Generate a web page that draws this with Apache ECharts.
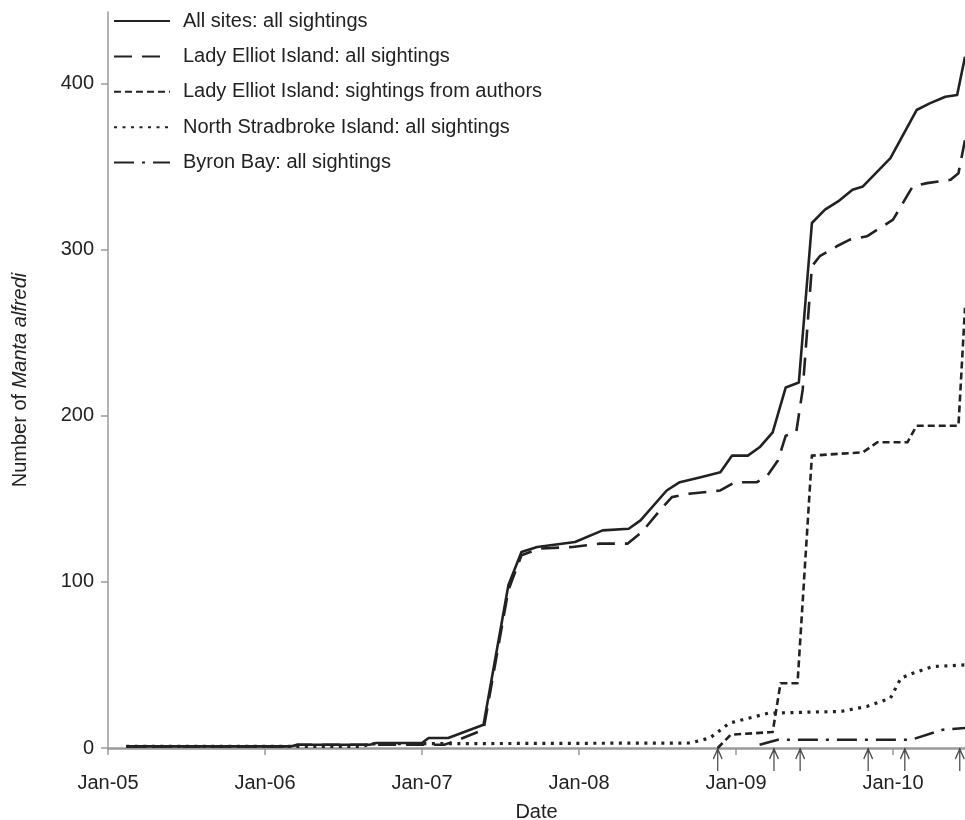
<!DOCTYPE html>
<html>
<head>
<meta charset="utf-8">
<script src="https://cdn.jsdelivr.net/npm/echarts@6/dist/echarts.min.js"></script>
<style>
  html, body { margin: 0; padding: 0; background: #fff; }
  #chart { width: 965px; height: 820px; }
</style>
</head>
<body>
<div id="chart"></div>
<script>
// months counted from Jan 2005 (0 = Jan-05), cumulative sightings
const xTickLabels = ['Jan-05', 'Jan-06', 'Jan-07', 'Jan-08', 'Jan-09', 'Jan-10'];
const xTickMonths = [0, 12, 24, 36, 48, 60];
const yTicks = [0, 100, 200, 300, 400];

const allSites = [
  [1.4, 1], [14, 1], [14.5, 2], [20, 2], [20.5, 3], [24, 3], [24.5, 6], [26, 6],
  [28.7, 14], [30.6, 98], [31.6, 118], [32.8, 121], [35.7, 124], [37.8, 131],
  [39.8, 132], [40.7, 137], [42.7, 155], [43.7, 160], [45.3, 163], [46.8, 166],
  [47.7, 176], [48.9, 176], [49.8, 181], [50.8, 190], [51.8, 217], [52.8, 220],
  [53.8, 316], [54.8, 324], [55.8, 329], [56.9, 336], [57.7, 338], [59.8, 355],
  [61.8, 384], [62.8, 388], [64, 392], [64.9, 393], [65.5, 416]
];

const ladyElliotAll = [
  [1.4, 1], [14, 1], [14.5, 2], [24, 2], [25.7, 2], [26.8, 5], [28.7, 11],
  [30.6, 95], [31.6, 116], [33, 120], [35.5, 121], [37.6, 123], [39.7, 123],
  [40.8, 130], [42.4, 145], [43.1, 151], [44.4, 153], [46.8, 155], [47.9, 160],
  [49.6, 160], [50.4, 164], [51.2, 173], [51.8, 188], [52.6, 190], [53.1, 216],
  [53.8, 290], [54.4, 296], [55.7, 302], [56.7, 306], [58, 308], [60, 318],
  [61.5, 338], [62.6, 340], [64.4, 342], [65, 346], [65.5, 366]
];

const ladyElliotAuthors = [
  [46.6, 0], [47.6, 8], [50.8, 9.6], [51.4, 39], [52.7, 39], [53.8, 176],
  [57.7, 178], [58.8, 184], [61.1, 184], [61.8, 194], [65, 194], [65.5, 265]
];

const northStradbroke = [
  [1.4, 1], [19.5, 1], [20, 2.5], [44.5, 3], [46, 6], [47.5, 15], [48.5, 17],
  [50.5, 21], [56, 22], [58, 25], [59.8, 30], [60.6, 42], [61.5, 45], [63, 49],
  [65.5, 50]
];

const byronBay = [
  [49.8, 2], [51.2, 5], [61.4, 5], [63.8, 11], [65.5, 12]
];

const arrowMonths = [46.6, 50.9, 52.9, 58.1, 60.9, 65.1];

const INK = '#222';
const AXIS = '#9a9a9a';
const FONT = 'Liberation Sans, Arial, sans-serif';
const FS = 20;

const lineSeries = (name, data, type, width) => ({
  name,
  type: 'line',
  data,
  symbol: 'none',
  silent: true,
  lineStyle: { color: INK, width, type, cap: 'butt', join: 'round' },
  itemStyle: { color: INK, opacity: 0 },
  z: 3
});

const chart = echarts.init(document.getElementById('chart'), null, { renderer: 'canvas' });

chart.setOption({
  backgroundColor: '#fff',
  animation: false,
  textStyle: { fontFamily: FONT, color: INK },
  grid: { left: 108, right: 0, top: 12, bottom: 72, containLabel: false, outerBoundsMode: 'none' },
  legend: {
    orient: 'vertical',
    left: 113,
    top: 11,
    padding: 0,
    itemWidth: 56,
    itemHeight: 14,
    itemGap: 15.4,
    itemStyle: { opacity: 0 },
    data: [
      'All sites: all sightings',
      'Lady Elliot Island: all sightings',
      'Lady Elliot Island: sightings from authors',
      'North Stradbroke Island: all sightings',
      'Byron Bay: all sightings'
    ],
    textStyle: { fontSize: FS, lineHeight: 20, color: INK, fontFamily: FONT, padding: [0, 0, 0, 8] },
    selectedMode: false
  },
  xAxis: {
    type: 'value',
    min: 0,
    max: 65.5,
    interval: 12,
    name: 'Date',
    nameLocation: 'middle',
    nameGap: 54,
    nameTextStyle: { fontSize: FS, color: INK, fontFamily: FONT },
    axisLine: { onZero: false, lineStyle: { color: AXIS, width: 2.5 } },
    axisTick: { show: true, length: 7, customValues: xTickMonths, lineStyle: { color: AXIS, width: 1.5 } },
    axisLabel: {
      customValues: xTickMonths,
      margin: 25,
      fontSize: FS,
      color: INK,
      fontFamily: FONT,
      formatter: v => {
        const i = xTickMonths.indexOf(v);
        return i >= 0 ? xTickLabels[i] : '';
      }
    },
    splitLine: { show: false }
  },
  yAxis: {
    type: 'value',
    min: 0,
    max: 443,
    interval: 100,
    name: '{n|Number of }{i|Manta alfredi}',
    nameLocation: 'middle',
    nameRotate: 90,
    nameGap: 78,
    nameTextStyle: {
      rich: {
        n: { fontSize: FS, color: INK, fontFamily: FONT },
        i: { fontSize: FS, color: INK, fontFamily: FONT, fontStyle: 'italic' }
      }
    },
    axisLine: { show: true, lineStyle: { color: AXIS, width: 1.5 } },
    axisTick: { show: true, length: 7, customValues: yTicks, lineStyle: { color: AXIS, width: 1.5 } },
    axisLabel: { customValues: yTicks, margin: 14, fontSize: FS, color: INK, fontFamily: FONT },
    splitLine: { show: false }
  },
  series: [
    lineSeries('All sites: all sightings', allSites, 'solid', 2.6),
    lineSeries('Lady Elliot Island: all sightings', ladyElliotAll, [18, 10], 2.6),
    lineSeries('Lady Elliot Island: sightings from authors', ladyElliotAuthors, [7, 4], 2.6),
    lineSeries('North Stradbroke Island: all sightings', northStradbroke, [3, 5.5], 3.2),
    lineSeries('Byron Bay: all sightings', byronBay, [20, 8, 3, 8], 2.6),
    {
      name: 'arrows',
      type: 'scatter',
      silent: true,
      data: arrowMonths.map(m => [m, 0]),
      symbol: 'path://M0,22 L0,0 M-7,10 L0,0 L7,10',
      symbolSize: [14, 22],
      symbolOffset: [0, 12],
      symbolKeepAspect: true,
      itemStyle: { color: 'rgba(0,0,0,0)', borderColor: INK, borderWidth: 1.6 },
      clip: false,
      z: 4
    }
  ]
});
</script>
</body>
</html>
